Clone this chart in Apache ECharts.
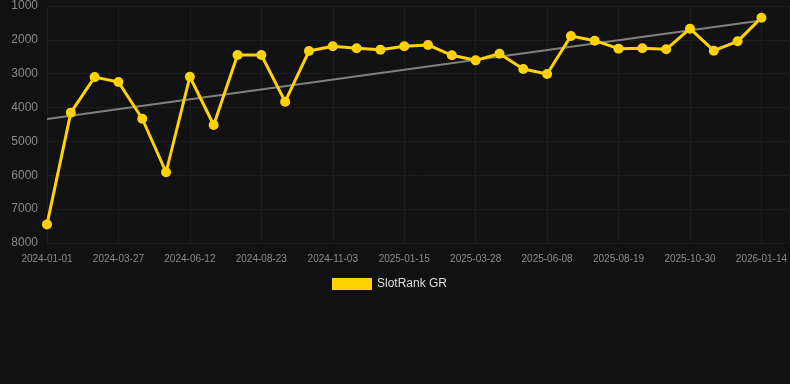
<!DOCTYPE html>
<html>
<head>
<meta charset="utf-8">
<script src="https://cdn.jsdelivr.net/npm/echarts@6/dist/echarts.min.js"></script>
<style>
html,body{margin:0;padding:0;background:#111111;}
#chart{width:790px;height:384px;}
</style>
</head>
<body>
<div id="chart"></div>
<script>
var dates = ['2024-01-01','2024-01-30','2024-02-28','2024-03-27','2024-04-22','2024-05-17','2024-06-12','2024-07-06','2024-07-30','2024-08-23','2024-09-16','2024-10-10','2024-11-03','2024-11-27','2024-12-22','2025-01-15','2025-02-08','2025-03-04','2025-03-28','2025-04-21','2025-05-15','2025-06-08','2025-07-02','2025-07-26','2025-08-19','2025-09-12','2025-10-06','2025-10-30','2025-11-24','2025-12-19','2026-01-14'];
var ranks = [7450,4150,3100,3245,4330,5910,3090,4515,2447,2447,3826,2330,2190,2250,2290,2190,2150,2457,2605,2408,2860,3008,1886,2024,2260,2250,2280,1670,2320,2043,1345];
var yTicks = [1000,2000,3000,4000,5000,6000,7000,8000];
var seriesName = 'SlotRank GR';

// linear regression trend over the data
var n = ranks.length, sx=0, sy=0, sxy=0, sxx=0;
for (var i=0;i<n;i++){ sx+=i; sy+=ranks[i]; sxy+=i*ranks[i]; sxx+=i*i; }
var slope = (n*sxy - sx*sy)/(n*sxx - sx*sx);
var icpt = (sy - slope*sx)/n;
var trend = [[0, icpt], [n-1, icpt + slope*(n-1)]];

var chart = echarts.init(document.getElementById('chart'));
chart.setOption({
  backgroundColor: '#111111',
  animation: false,
  grid: {left: 47, right: 0, top: 6, bottom: 141, containLabel: false},
  legend: {
    data: [{name: seriesName, icon: 'rect'}],
    top: 273, left: 327,
    itemWidth: 40, itemHeight: 12, itemGap: 10,
    textStyle: {color: '#dddddd', fontSize: 12, fontFamily: 'Liberation Sans, Arial, sans-serif'}
  },
  xAxis: {
    type: 'value',
    min: 0, max: 31.17, interval: 3,
    axisLine: {show: false},
    axisTick: {show: false},
    splitLine: {show: true, lineStyle: {color: '#1c1c1c', width: 1}},
    axisLabel: {
      color: '#8a8a8a', fontSize: 10, margin: 11,
      fontFamily: 'Liberation Sans, Arial, sans-serif',
      showMaxLabel: false,
      formatter: function(v){ return (Number.isInteger(v) && dates[v]) ? dates[v] : ''; }
    }
  },
  yAxis: {
    type: 'value',
    inverse: true,
    min: yTicks[0], max: yTicks[yTicks.length-1], interval: 1000,
    axisLine: {show: false},
    axisTick: {show: false},
    splitLine: {show: true, lineStyle: {color: '#1c1c1c', width: 1}},
    axisLabel: {
      color: '#8a8a8a', fontSize: 12, margin: 9,
      fontFamily: 'Liberation Sans, Arial, sans-serif',
      formatter: function(v){ return String(v); }
    }
  },
  series: [
    {
      name: 'trend',
      type: 'line',
      data: trend,
      symbol: 'none',
      lineStyle: {color: '#808080', width: 2},
      silent: true,
      z: 1
    },
    {
      name: seriesName,
      type: 'line',
      data: ranks.map(function(v,i){ return [i, v]; }),
      symbol: 'circle',
      symbolSize: 10,
      itemStyle: {color: '#FFD200'},
      lineStyle: {color: '#FFD200', width: 3},
      z: 3
    }
  ]
});
</script>
</body>
</html>
